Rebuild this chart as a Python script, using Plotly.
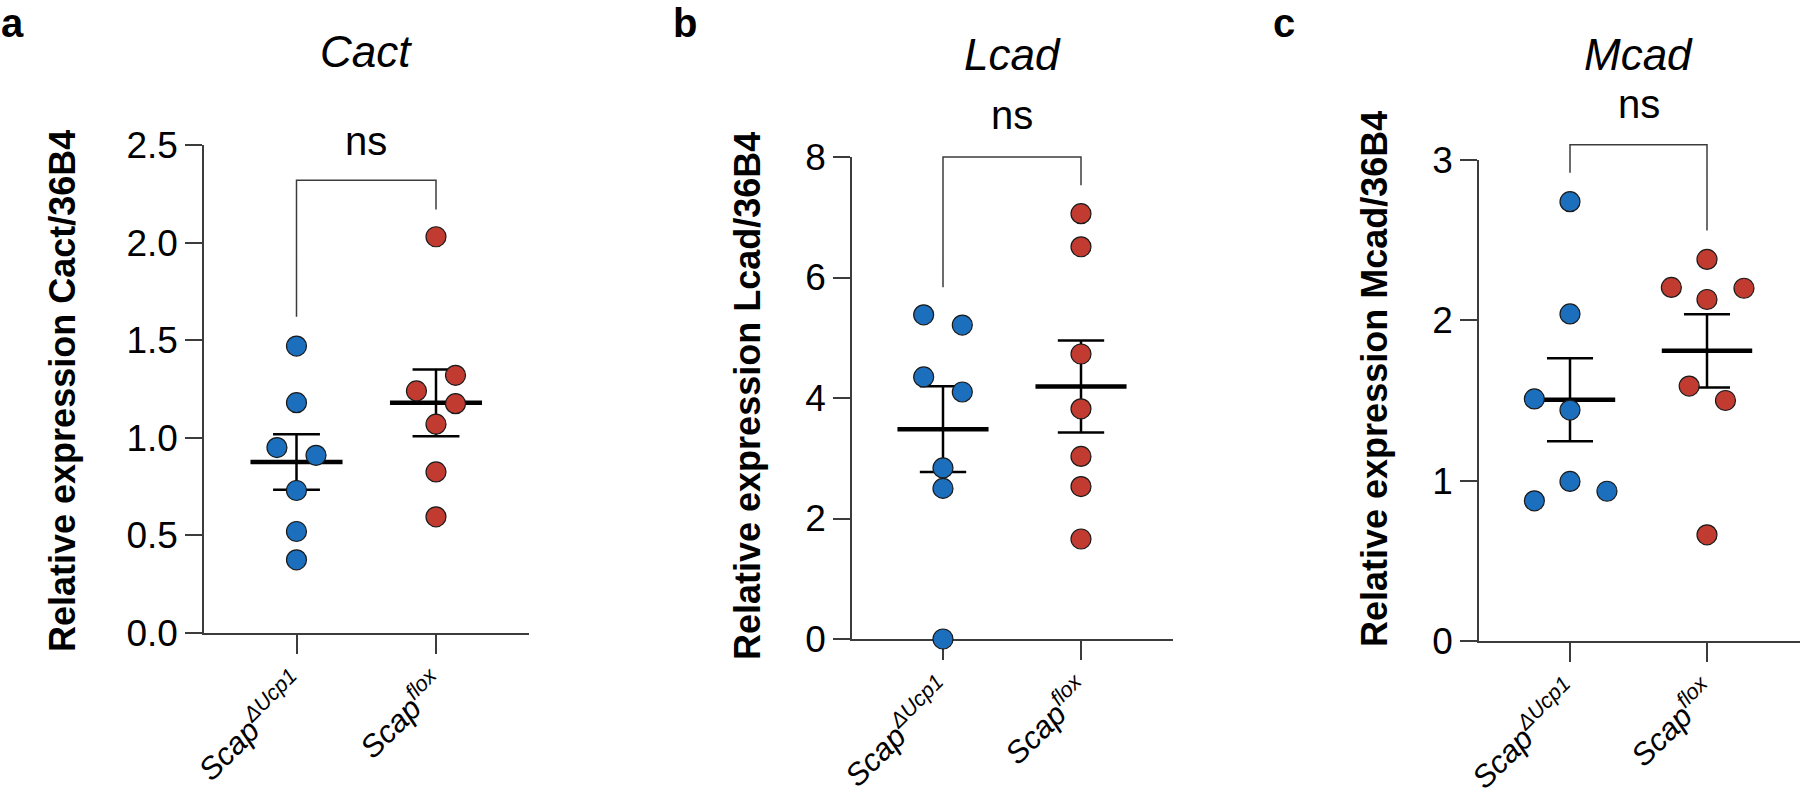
import numpy as np
import plotly.graph_objects as go

# ---------------- data ----------------
group_labels = ["<i>Scap</i><sup><i>ΔUcp1</i></sup>", "<i>Scap</i><sup><i>flox</i></sup>"]
genes = ["Cact", "Lcad", "Mcad"]
panel_letters = ["a", "b", "c"]

cact_ko = [1.47, 1.18, 0.95, 0.91, 0.73, 0.52, 0.375]
cact_ko_dx = [0, 0, -0.14, 0.14, 0, 0, 0]
cact_flox = [2.03, 1.32, 1.24, 1.175, 1.07, 0.825, 0.595]
cact_flox_dx = [0, 0.14, -0.14, 0.14, 0, 0, 0]

lcad_ko = [5.38, 5.21, 4.35, 4.10, 2.84, 2.50, 0.0]
lcad_ko_dx = [-0.14, 0.14, -0.14, 0.14, 0, 0, 0]
lcad_flox = [7.06, 6.51, 4.73, 3.82, 3.03, 2.53, 1.66]
lcad_flox_dx = [0, 0, 0, 0, 0, 0, 0]

mcad_ko = [2.74, 2.04, 1.51, 1.44, 0.995, 0.934, 0.874]
mcad_ko_dx = [0, 0, -0.26, 0, 0, 0.27, -0.26]
mcad_flox = [2.38, 2.205, 2.20, 2.13, 1.59, 1.50, 0.662]
mcad_flox_dx = [0, -0.26, 0.27, 0, -0.13, 0.135, 0]

# significance brackets: [left foot, top, right foot]
cact_bracket = [1.62, 2.32, 2.17]
lcad_bracket = [5.84, 8.0, 7.53]
mcad_bracket = [2.92, 3.095, 2.56]
sig_text = ["ns", "ns", "ns"]
sig_y = [2.52, 8.69, 3.347]

y_max = [2.5, 8, 3]
y_dtick = [0.5, 2, 1]
y_fmt = [".1f", "d", "d"]

# ---------------- layout geometry (pixels in 1800x797 page) ----------------
W, H = 1800, 797
BLUE = "#1b6fbd"
RED = "#c23b31"
AX = "#3c3c3c"
FONT = "Liberation Sans, Arial, sans-serif"

# (y-axis x, x-axis right end, y=0 px, y=max px, cat0 px, cat1 px)
geom = [
    (204, 529, 633, 145, 296.5, 436),
    (852, 1173, 639, 157, 943, 1081),
    (1479, 1800, 641, 160, 1570, 1707),
]
hidden_range = [(-0.3, 3.0), (-1.0, 9.5), (-0.3, 3.6)]
ytitle_pos = [(62, 391), (747, 396), (1374, 379)]
title_y_px = [52, 55, 55]
letter_x_px = [0, 672, 1272]

panels = [
    (cact_ko, cact_ko_dx, cact_flox, cact_flox_dx, cact_bracket),
    (lcad_ko, lcad_ko_dx, lcad_flox, lcad_flox_dx, lcad_bracket),
    (mcad_ko, mcad_ko_dx, mcad_flox, mcad_flox_dx, mcad_bracket),
]

fig = go.Figure()
layout = dict(
    width=W, height=H,
    margin=dict(l=0, r=0, t=0, b=0, pad=0, autoexpand=False),
    paper_bgcolor="white", plot_bgcolor="rgba(0,0,0,0)",
    showlegend=False, font=dict(family=FONT, color="black"),
)
annotations = []

MEAN_HW = 0.33
CAP_HW = 0.168

for i, (ko, ko_dx, fl, fl_dx, br) in enumerate(panels):
    yax_px, xr_px, y0_px, yt_px, c0, c1 = geom[i]
    unit = c1 - c0
    xlo = (yax_px - c0) / unit
    xhi = (xr_px - c0) / unit
    xdom = [yax_px / W, min(1.0, xr_px / W)]
    yb = 1 - y0_px / H
    yt = 1 - yt_px / H
    k = (yt - yb) / y_max[i]
    hlo, hhi = hidden_range[i]

    vis = "" if i == 0 else str(i + 1)
    hid = str(i + 4)

    layout["xaxis" + vis] = dict(
        domain=xdom, range=[xlo, xhi], anchor="y" + vis,
        showline=True, linecolor=AX, linewidth=1.5,
        ticks="outside", ticklen=19, tickwidth=1.5, tickcolor=AX,
        tickvals=[0, 1], ticktext=group_labels, tickangle=-45,
        tickfont=dict(size=31, family=FONT, color="black"),
        showgrid=False, zeroline=False, fixedrange=True, automargin=False,
    )
    layout["yaxis" + vis] = dict(
        domain=[yb, yt], range=[0, y_max[i]], anchor="x" + vis,
        showline=True, linecolor=AX, linewidth=1.5,
        ticks="outside", ticklen=17, tickwidth=1.5, tickcolor=AX,
        dtick=y_dtick[i], tick0=0, tickformat=y_fmt[i],
        tickfont=dict(size=37, family=FONT, color="black"),
        showgrid=False, zeroline=False, fixedrange=True, automargin=False,
    )
    layout["xaxis" + hid] = dict(
        domain=xdom, range=[xlo, xhi], anchor="y" + hid, visible=False,
        fixedrange=True, automargin=False,
    )
    layout["yaxis" + hid] = dict(
        domain=[yb + hlo * k, yb + hhi * k], range=[hlo, hhi],
        anchor="x" + hid, visible=False, fixedrange=True, automargin=False,
    )
    xa, ya = "x" + hid, "y" + hid

    # invisible carrier trace so the visible axes are drawn
    fig.add_trace(go.Scatter(
        x=[0.5], y=[0], mode="markers", marker=dict(opacity=0, size=1),
        xaxis="x" + vis, yaxis="y" + vis, hoverinfo="skip",
    ))

    # significance bracket
    fig.add_trace(go.Scatter(
        x=[0, 0, 1, 1], y=[br[0], br[1], br[1], br[2]], mode="lines",
        line=dict(color=AX, width=1.5), xaxis=xa, yaxis=ya, hoverinfo="skip",
    ))

    # mean +/- SEM
    for g, vals in enumerate([ko, fl]):
        v = np.asarray(vals, dtype=float)
        m = v.mean()
        s = v.std(ddof=1) / np.sqrt(len(v))
        fig.add_trace(go.Scatter(
            x=[g, g, None, g - CAP_HW, g + CAP_HW, None, g - CAP_HW, g + CAP_HW],
            y=[m - s, m + s, None, m + s, m + s, None, m - s, m - s],
            mode="lines", line=dict(color="black", width=2.5),
            xaxis=xa, yaxis=ya, hoverinfo="skip",
        ))
        fig.add_trace(go.Scatter(
            x=[g - MEAN_HW, g + MEAN_HW], y=[m, m], mode="lines",
            line=dict(color="black", width=4.5),
            xaxis=xa, yaxis=ya, hoverinfo="skip",
        ))

    # points
    for g, (vals, dx, col) in enumerate([(ko, ko_dx, BLUE), (fl, fl_dx, RED)]):
        fig.add_trace(go.Scatter(
            x=[g + d for d in dx], y=vals, mode="markers",
            marker=dict(size=20, color=col, line=dict(color="#1a1a1a", width=1.2)),
            xaxis=xa, yaxis=ya, cliponaxis=False,
        ))

    # significance text
    annotations.append(dict(
        x=0.5, y=sig_y[i], xref=xa, yref=ya, text=sig_text[i], showarrow=False,
        xanchor="center", yanchor="middle",
        font=dict(size=40, family=FONT, color="black"),
    ))
    # panel title (gene)
    annotations.append(dict(
        x=0.5, y=1 - title_y_px[i] / H, xref=xa, yref="paper",
        text="<i>%s</i>" % genes[i], showarrow=False,
        xanchor="center", yanchor="middle",
        font=dict(size=44, family=FONT, color="black"),
    ))
    # y-axis title
    annotations.append(dict(
        x=ytitle_pos[i][0] / W, y=1 - ytitle_pos[i][1] / H, xref="paper", yref="paper",
        text="<b>Relative expression %s/36B4</b>" % genes[i], showarrow=False,
        textangle=-90, xanchor="center", yanchor="middle",
        font=dict(size=36, family=FONT, color="black"),
    ))
    # panel letter
    annotations.append(dict(
        x=letter_x_px[i] / W, y=1.0, xref="paper", yref="paper",
        text="<b>%s</b>" % panel_letters[i], showarrow=False,
        xanchor="left", yanchor="top", borderpad=0,
        font=dict(size=40, family=FONT, color="black"),
    ))

layout["annotations"] = annotations
fig.update_layout(**layout)
fig.write_html(
    "out.html",
    config={"displayModeBar": False},
    post_script="document.body.style.margin='0';document.body.style.padding='0';",
)
